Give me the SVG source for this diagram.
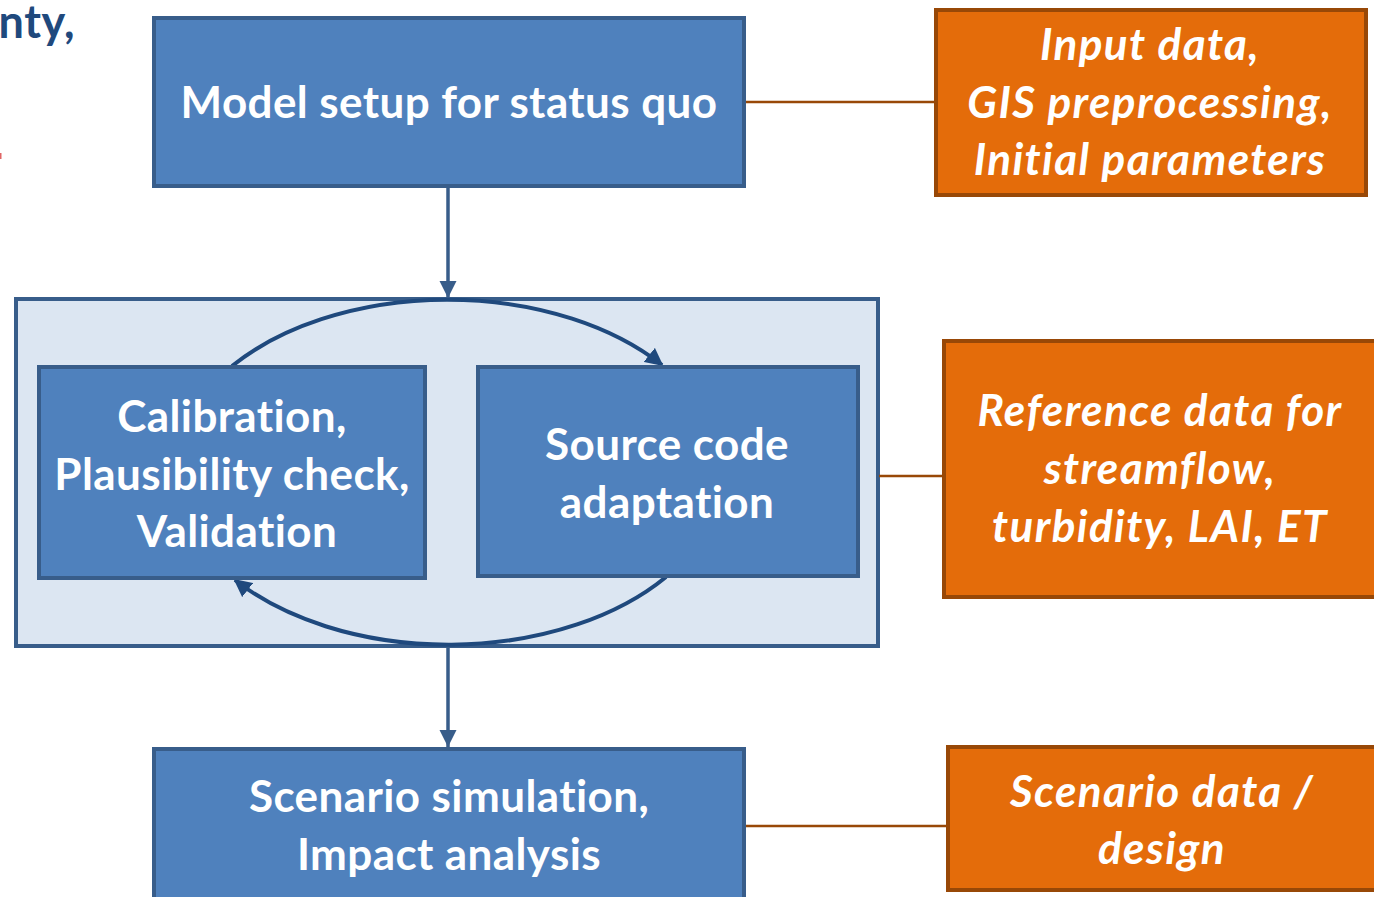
<svg xmlns="http://www.w3.org/2000/svg" width="1374" height="897" viewBox="0 0 1374 897">
  <style>
    .blue { fill: #4F81BD; stroke: #385D8A; stroke-width: 4; }
    .orange { fill: #E46C0A; stroke: #984807; stroke-width: 4; }
    .frame { fill: #DCE6F2; stroke: #385D8A; stroke-width: 4; }
    .t { font-family: Lato, "Open Sans", "Liberation Sans", sans-serif; font-weight: bold; font-size: 44px; letter-spacing: 0.4px; fill: #FFFFFF; text-anchor: middle; }
    .ti { font-family: Lato, "Open Sans", "Liberation Sans", sans-serif; font-weight: bold; font-style: italic; font-size: 44px; letter-spacing: 1.4px; fill: #FFFFFF; text-anchor: middle; }
    .link { stroke: #984807; stroke-width: 2.5; fill: none; }
    .flow { stroke: #385D8A; stroke-width: 3.5; fill: none; }
    .loop { stroke: #1F497D; stroke-width: 4; fill: none; }
  </style>
  <defs>
    <marker id="headFlow" viewBox="0 0 10 10" refX="10" refY="5" markerWidth="5" markerHeight="5" markerUnits="strokeWidth" orient="auto">
      <path d="M0,0 L10,5 L0,10 Z" fill="#385D8A"/>
    </marker>
    <marker id="headLoop" viewBox="0 0 10 10" refX="9" refY="5" markerWidth="4.5" markerHeight="4.5" markerUnits="strokeWidth" orient="auto">
      <path d="M0,0 L10,5 L0,10 Z" fill="#1F497D"/>
    </marker>
  </defs>
  <rect width="1374" height="897" fill="#FFFFFF"/>

  <!-- heading fragment at the top-left edge -->
  <text x="75" y="38" text-anchor="end" font-family="Lato, 'Open Sans', 'Liberation Sans', sans-serif" font-weight="bold" font-size="45" letter-spacing="0.5" fill="#1F497D">nty,</text>
  <rect x="0" y="153" width="1.5" height="6" fill="#E06666"/>

  <!-- iteration frame -->
  <g id="loop-frame">
    <rect class="frame" x="16" y="299" width="862" height="347"/>
  </g>

  <!-- connectors -->
  <g id="connectors">
    <line class="link" x1="745" y1="102" x2="935" y2="102"/>
    <line class="link" x1="879" y1="476" x2="943" y2="476"/>
    <line class="link" x1="745" y1="826" x2="947" y2="826"/>
    <line class="flow" x1="448" y1="187" x2="448" y2="298" marker-end="url(#headFlow)"/>
    <line class="flow" x1="448" y1="647" x2="448" y2="747" marker-end="url(#headFlow)"/>
    <path class="loop" d="M232,366 A274,173 0 0 1 662,365" marker-end="url(#headLoop)"/>
    <path class="loop" d="M666,577 A274,173 0 0 1 235,580" marker-end="url(#headLoop)"/>
  </g>

  <g id="model-setup">
    <rect class="blue" x="154" y="18" width="590" height="168"/>
    <text class="t" x="449" y="118">Model setup for status quo</text>
  </g>

  <g id="calibration">
    <rect class="blue" x="39" y="367" width="386" height="211"/>
    <text class="t" x="232" y="432">Calibration,</text>
    <text class="t" x="232" y="490">Plausibility check,</text>
    <text class="t" x="237" y="547">Validation</text>
  </g>

  <g id="source-code">
    <rect class="blue" x="478" y="367" width="380" height="209"/>
    <text class="t" x="667" y="460">Source code</text>
    <text class="t" x="667" y="518">adaptation</text>
  </g>

  <g id="scenario-simulation">
    <rect class="blue" x="154" y="749" width="590" height="160"/>
    <text class="t" x="449" y="812">Scenario simulation,</text>
    <text class="t" x="449" y="870">Impact analysis</text>
  </g>

  <g id="input-data">
    <rect class="orange" x="936" y="10" width="430" height="185"/>
    <text class="ti" x="1150" y="60">Input data,</text>
    <text class="ti" x="1150" y="118">GIS preprocessing,</text>
    <text class="ti" x="1150" y="175">Initial parameters</text>
  </g>

  <g id="reference-data">
    <rect class="orange" x="944" y="341" width="432" height="256"/>
    <text class="ti" x="1160" y="426">Reference data for</text>
    <text class="ti" x="1160" y="484">streamflow,</text>
    <text class="ti" x="1160" y="542">turbidity, LAI, ET</text>
  </g>

  <g id="scenario-data">
    <rect class="orange" x="948" y="747" width="428" height="143"/>
    <text class="ti" x="1162" y="807">Scenario data /</text>
    <text class="ti" x="1162" y="864">design</text>
  </g>
</svg>
